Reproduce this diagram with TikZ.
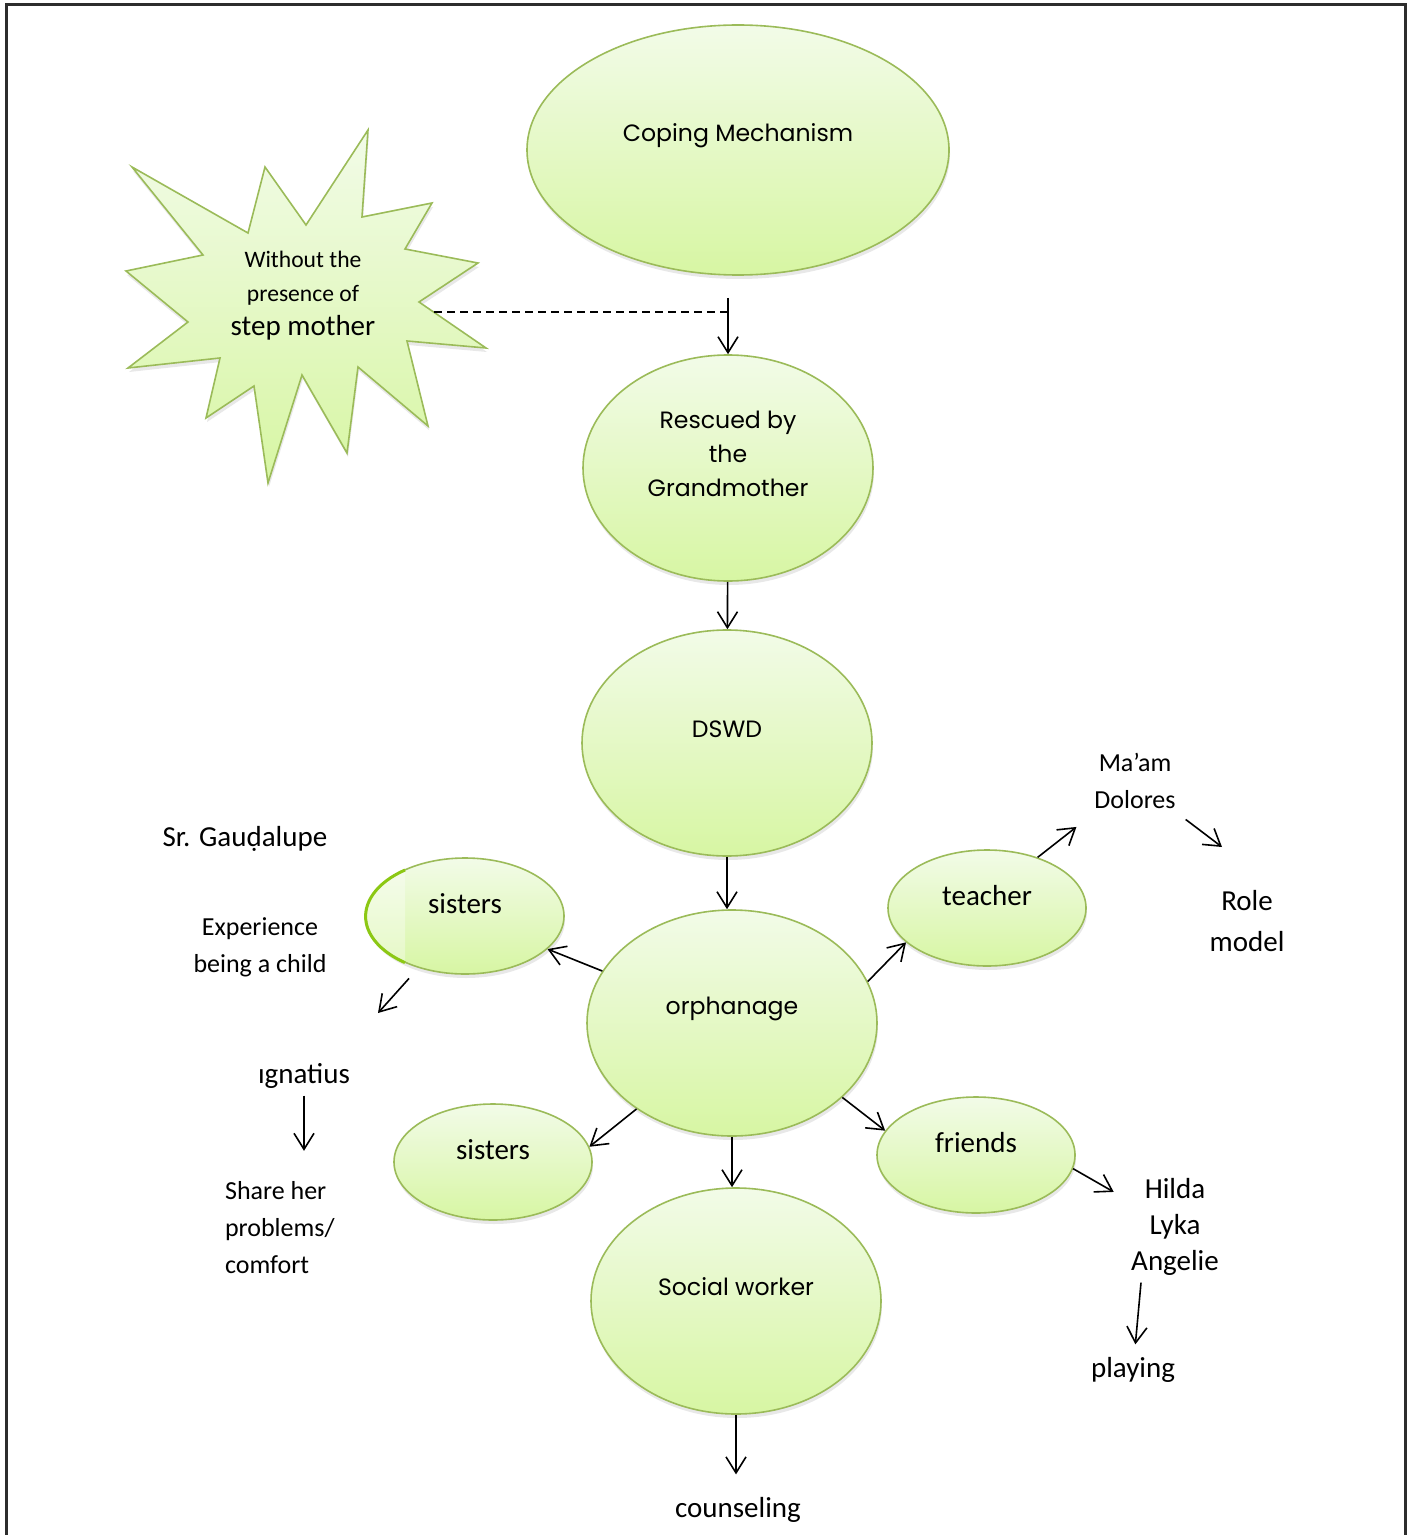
\documentclass[tikz,border=0pt]{standalone}
\usepackage{fontspec}
\setmainfont{Carlito}
\newfontfamily\gothic{Poppins}
\usetikzlibrary{shapes.geometric,arrows.meta,shadows}

\definecolor{edgegreen}{RGB}{155,187,89}
\definecolor{bubbletop}{RGB}{242,251,232}
\definecolor{bubblebot}{RGB}{215,246,163}
\definecolor{limeedge}{RGB}{140,200,20}
\definecolor{framegray}{RGB}{45,45,45}

\tikzset{
  bubble/.style={ellipse, draw=edgegreen, line width=0.8pt, top color=bubbletop, bottom color=bubblebot, inner sep=0pt,
    drop shadow={shadow xshift=0.5pt, shadow yshift=-2pt, opacity=0.18}},
  bigbubble/.style={bubble, minimum width=145pt, minimum height=113pt},
  smallbubble/.style={bubble, minimum width=99pt, minimum height=58pt},
  cg/.style={font=\gothic\fontsize{11.8}{17}\selectfont, align=center},
  txtbig/.style={font=\fontsize{14.5}{18}\selectfont, align=center},
  txtmid/.style={font=\fontsize{13}{18.5}\selectfont, align=center},
  arr/.style={-{Straight Barb[length=8pt,width=10pt]}, line width=0.8pt},
}

\begin{document}
\begin{tikzpicture}[x=0.5pt,y=-0.5pt]
\useasboundingbox (0,0) rectangle (1413,1535);
\draw[framegray, line width=1.5pt] (6,1540) -- (6,5) -- (1405,5) -- (1405,1540);

% the star
\path[draw=edgegreen, line width=0.8pt, top color=bubbletop, bottom color=bubblebot,
  drop shadow={shadow xshift=0.5pt, shadow yshift=-2pt, opacity=0.18}]
  (132,167) -- (248,233) -- (265,167) -- (306,225) -- (368,130) -- (362,217) -- (432,203) -- (405,249)
  -- (478,263) -- (419,302) -- (486,348) -- (407,341) -- (428,426) -- (358,367) -- (347,453) -- (302,375)
  -- (268,483) -- (254,386) -- (206,418) -- (220,358) -- (128,368) -- (188,322) -- (126,271) -- (203,255) -- cycle;
\node[font=\fontsize{11.8}{17}\selectfont, align=center] (stepm) at (303,296) {Without the\\ presence of\\ \fontsize{14.5}{17}\selectfont step mother};
\coordinate (starR) at (434,312);

% main chain
\node[bubble, minimum width=211pt, minimum height=125pt, label={[cg, yshift=7pt]center:Coping Mechanism}] (cope) at (738,150) {};
\node[bigbubble, label={[cg, yshift=7pt]center:Rescued by\\the\\Grandmother}] (rescue) at (728,468) {};
\node[bigbubble, label={[cg, yshift=7pt]center:DSWD}] (dswd) at (727,743) {};
\node[bigbubble, label={[cg, yshift=7pt]center:orphanage}] (orph) at (732,1023) {};
\node[bigbubble, label={[cg, yshift=7pt]center:Social worker}] (soc) at (736,1301) {};

% side bubbles
\node[smallbubble, label={[txtbig, yshift=6pt]center:sisters}] (sis1) at (465,916) {};
\fill[white, opacity=0.35] (405,870) arc[start angle=233, end angle=127, x radius=99, y radius=58] -- cycle;
\draw[limeedge, line width=1.5pt] (405,870) arc[start angle=233, end angle=127, x radius=99, y radius=58];
\node[smallbubble, label={[txtbig, yshift=6pt]center:sisters}] (sis2) at (493,1162) {};
\node[smallbubble, label={[txtbig, yshift=6pt]center:teacher}] (teach) at (987,908) {};
\node[smallbubble, label={[txtbig, yshift=6pt]center:friends}] (fri) at (976,1155) {};

% plain texts
\node[txtbig] (gaud) at (245,839) {Sr. Gau\d{d}alupe};
\node[txtmid] (exper) at (260,947) {Experience\\being a child};
\node[txtbig] (ign) at (304,1076) {ıgnatius};
\node[txtmid, align=left, anchor=west] (share) at (218,1228) {Share her\\problems/\\comfort};
\node[txtmid] (maam) at (1135,781) {Ma’am\\Dolores};
\node[font=\fontsize{14.5}{20.5}\selectfont, align=center] (role) at (1247,921) {Role\\model};
\node[txtbig] (hilda) at (1175,1227) {Hilda\\Lyka\\Angelie};
\node[txtbig] (play) at (1133,1370) {playing};
\node[txtbig] (couns) at (738,1510) {counseling};
\coordinate (roleTip) at (1222,847);
\coordinate (sisTip) at (378,1013);

% arrows
\draw[arr, shorten <=11pt] (cope.south -| rescue.north) -- (rescue.north);
\draw[dashed, dash pattern=on 4pt off 2.5pt, line width=0.7pt] (starR) -- (starR -| rescue.north);
\draw[arr] (rescue) -- (dswd);
\draw[arr] (dswd.south) -- (dswd.south |- orph.north);
\draw[arr] (orph.south) -- (orph.south |- soc.north);
\draw[arr, shorten >=8pt] (soc.south) -- (soc.south |- couns.north);
\draw[arr] (orph) -- (sis1);
\draw[arr] (orph.-138) -- (sis2.9);
\draw[arr] (orph.17) -- (teach.203);
\draw[arr] (orph.-34) -- (fri.165);
\draw[arr, shorten >=9pt] (teach.45) -- (maam);
\draw[arr, shorten <=3pt] (maam) -- (roleTip);
\draw[arr, shorten <=7pt] (sis1) -- (sisTip);
\draw[arr, shorten >=12pt] (ign.south) -- (ign.south |- share.north);
\draw[arr, shorten >=6pt] (fri.-8) -- (hilda);
\draw[arr, shorten >=3pt] ([xshift=-17pt]hilda.south) -- (play);
\end{tikzpicture}
\end{document}
